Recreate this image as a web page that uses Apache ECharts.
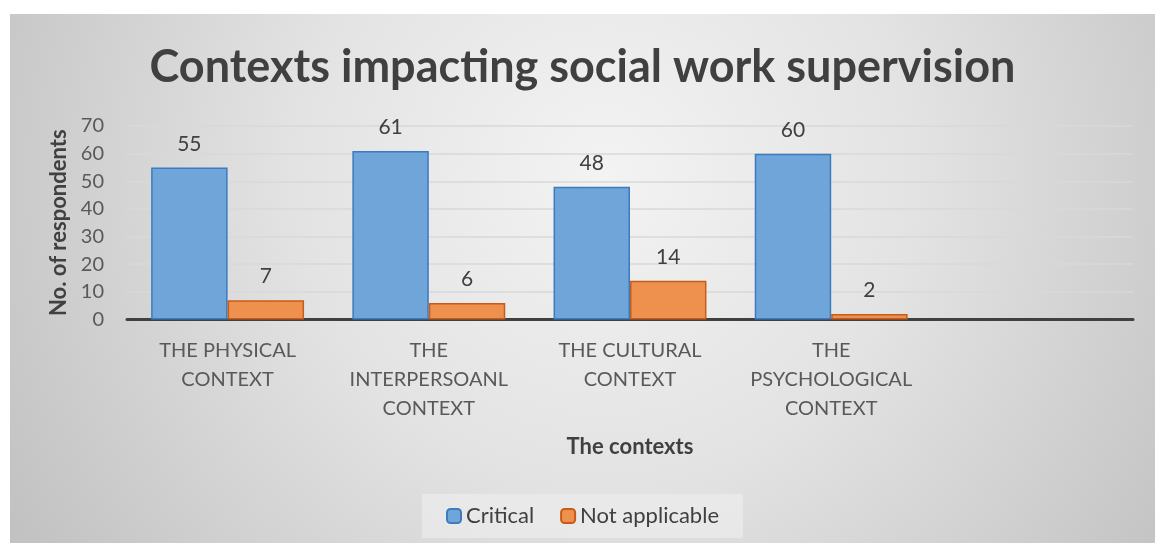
<!DOCTYPE html>
<html>
<head>
<meta charset="utf-8">
<style>
  html, body { margin: 0; padding: 0; background: #ffffff; }
  #chart { position: absolute; left: 10px; top: 14px; width: 1145px; height: 529px; }
</style>
<script src="https://cdn.jsdelivr.net/npm/echarts@6/dist/echarts.min.js"></script>
</head>
<body>
<div id="chart"></div>
<script>
// Survey results: contexts impacting social work supervision
const categories = [
  'THE PHYSICAL\nCONTEXT',
  'THE\nINTERPERSOANL\nCONTEXT',
  'THE CULTURAL\nCONTEXT',
  'THE\nPSYCHOLOGICAL\nCONTEXT',
  ''
];
const critical = [55, 61, 48, 60, null];
const notApplicable = [7, 6, 14, 2, null];
const seriesNames = ['Critical', 'Not applicable'];
const yTicks = { min: 0, max: 70, interval: 10 };

const FONT = 'Lato, "Open Sans", sans-serif';
const chart = echarts.init(document.getElementById('chart'));

const labelStyle = {
  show: true,
  position: 'top',
  distance: 13,
  color: '#404040',
  fontSize: 21,
  fontFamily: FONT
};

chart.setOption({
  backgroundColor: {
    type: 'radial',
    x: 0.52, y: 0.3, r: 1.3,
    colorStops: [
      { offset: 0, color: '#f3f3f3' },
      { offset: 0.45, color: '#e3e3e3' },
      { offset: 1, color: '#c2c2c2' }
    ]
  },
  title: {
    text: 'Contexts impacting social work supervision',
    left: 'center',
    top: 26,
    textStyle: { fontFamily: FONT, fontSize: 45, fontWeight: 'bold', color: '#404040' }
  },
  legend: {
    data: seriesNames,
    bottom: 5,
    left: 'center',
    itemWidth: 14,
    itemHeight: 14,
    itemGap: 26,
    padding: [11, 24, 11, 24],
    backgroundColor: 'rgba(240,240,240,0.55)',
    textStyle: { fontFamily: FONT, fontSize: 22, color: '#404040' }
  },
  grid: { left: 117, right: 22, top: 112, bottom: 223.5, containLabel: false },
  xAxis: {
    type: 'category',
    data: categories,
    name: 'The contexts',
    nameLocation: 'middle',
    nameGap: 116,
    nameTextStyle: { fontFamily: FONT, fontSize: 22, fontWeight: 'bold', color: '#404040' },
    axisLine: { lineStyle: { color: '#404040', width: 3 } },
    axisTick: { show: false },
    axisLabel: {
      interval: 0,
      margin: 17,
      lineHeight: 29,
      fontFamily: FONT,
      fontSize: 20,
      color: '#595959'
    }
  },
  yAxis: {
    type: 'value',
    min: yTicks.min,
    max: yTicks.max,
    interval: yTicks.interval,
    name: 'No. of respondents',
    nameLocation: 'middle',
    nameGap: 55,
    nameTextStyle: { fontFamily: FONT, fontSize: 22, fontWeight: 'bold', color: '#404040' },
    axisLine: { show: false },
    axisTick: { show: false },
    axisLabel: { margin: 23, fontFamily: FONT, fontSize: 20, color: '#595959' },
    splitLine: { lineStyle: { color: '#d9d9d9', width: 1.5 } }
  },
  series: [
    {
      name: seriesNames[0],
      type: 'bar',
      data: critical,
      barGap: '0%',
      barCategoryGap: '24%',
      itemStyle: { color: '#6fa5d9', borderColor: '#3b7bbf', borderWidth: 1.5 },
      label: labelStyle
    },
    {
      name: seriesNames[1],
      type: 'bar',
      data: notApplicable,
      itemStyle: { color: '#ee914f', borderColor: '#c65c17', borderWidth: 1.5 },
      label: labelStyle
    }
  ]
});
</script>
</body>
</html>
